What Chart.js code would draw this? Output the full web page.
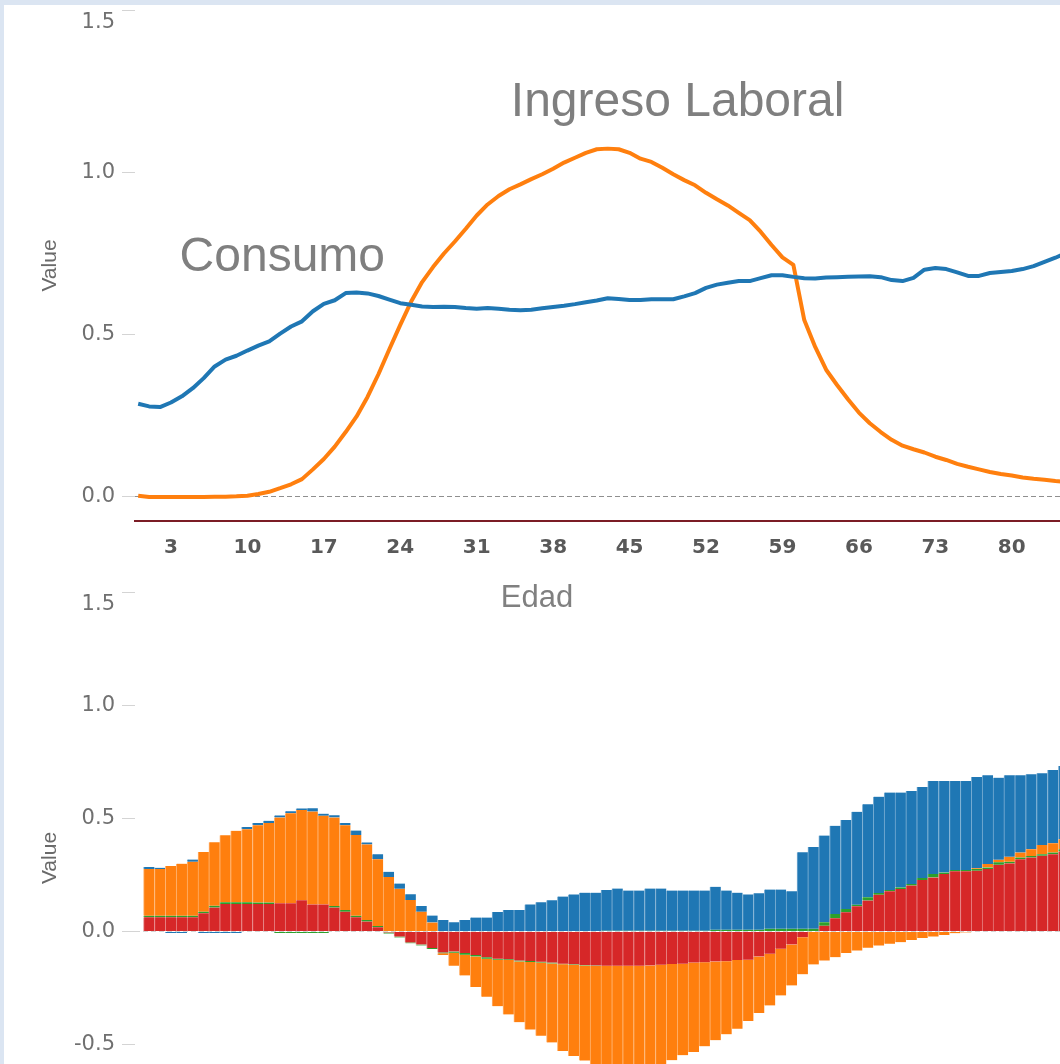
<!DOCTYPE html>
<html>
<head>
<meta charset="utf-8">
<script src="https://cdn.jsdelivr.net/npm/chart.js@4.4.1/dist/chart.umd.min.js"></script>
<style>
  html, body { margin: 0; padding: 0; }
  body { width: 1060px; height: 1064px; overflow: hidden; position: relative; background: #dbe5f2; }
  #sheet { position: absolute; left: 4px; top: 5px; right: 0; bottom: 0; background: #fff; }
  canvas { position: absolute; left: 0; }
  #topChart { top: 0; }
  #bottomChart { top: 560px; }
</style>
</head>
<body>
<div id="sheet"></div>
<canvas id="topChart" width="1200" height="620"></canvas>
<canvas id="bottomChart" width="1200" height="600"></canvas>
<script>
// ages (Edad) for the two line series
const ages = Array.from({length: 86}, (_, i) => i);
const consumo = [
  .287, .279, .277, .291, .310, .335, .366, .402, .423, .435,
  .451, .466, .479, .503, .525, .541, .572, .595, .606, .628,
  .630, .627, .619, .608, .597, .592, .587, .585, .586, .585,
  .582, .580, .582, .580, .577, .575, .577, .581, .585, .589,
  .594, .600, .605, .612, .610, .607, .607, .609, .609, .609,
  .618, .628, .644, .654, .660, .665, .665, .674, .683, .683,
  .678, .674, .673, .676, .677, .678, .679, .680, .677, .668,
  .665, .675, .700, .705, .702, .692, .681, .681, .690, .693,
  .696, .702, .711, .724, .737, .752
];
const ingreso = [
  .004, 0, 0, 0, 0, 0, 0, .001, .001, .002,
  .004, .009, .016, .027, .039, .055, .085, .117, .155, .200,
  .248, .308, .378, .455, .530, .602, .662, .708, .750, .787,
  .826, .867, .901, .927, .948, .963, .979, .994, 1.011, 1.030,
  1.045, 1.060, 1.071, 1.073, 1.071, 1.060, 1.042, 1.032, 1.014, .994,
  .976, .960, .937, .917, .898, .875, .853, .817, .776, .738,
  .715, .545, .462, .392, .345, .301, .260, .227, .200, .176,
  .158, .147, .137, .124, .114, .102, .093, .085, .077, .071,
  .066, .060, .056, .053, .049, .046
];

// ages for the stacked bars
const barAges = Array.from({length: 85}, (_, i) => i);
const redVals = [
  .063, .063, .063, .063, .063, .081, .106, .122, .122, .122,
  .122, .122, .125, .125, .138, .120, .120, .106, .088, .063,
  .044, .019, -.004, -.022, -.048, -.057, -.073, -.092, -.088, -.095,
  -.103, -.113, -.120, -.122, -.128, -.130, -.133, -.137, -.142, -.144,
  -.148, -.150, -.151, -.151, -.151, -.151, -.150, -.147, -.143, -.142,
  -.137, -.136, -.132, -.131, -.126, -.125, -.110, -.098, -.076, -.057,
  -.025, 0, .026, .059, .085, .112, .137, .163, .178, .188,
  .203, .228, .239, .254, .266, .266, .269, .276, .295, .301,
  .320, .327, .335, .342, .354
];
const greenVals = [
  .007, .007, .007, .007, .007, .007, .008, .007, .007, .007,
  .006, .006, -.006, -.006, -.006, -.006, -.006, .007, .007, .007,
  .007, .006, -.005, -.004, -.004, -.004, -.004, -.004, -.005, -.007,
  -.007, -.007, -.005, -.004, -.004, -.004, -.004, -.004, -.002, -.002,
  -.002, -.002, .004, .004, .004, .004, .004, .004, .004, .004,
  .004, .004, .008, .008, .008, .008, .008, .012, .012, .012,
  .012, .012, .015, .019, .015, .007, .015, .007, .006, .007,
  .007, .009, .015, .007, .006, .006, .007, .007, .011, .007,
  .007, .007, .007, .007, .010
];
const orangeVals = [
  .206, .206, .220, .230, .238, .263, .281, .297, .316, .323,
  .342, .352, .379, .398, .399, .410, .392, .391, .375, .357,
  .334, .294, .241, .189, .140, .088, .040, -.008, -.058, -.092,
  -.135, -.168, -.205, -.240, -.268, -.299, -.323, -.349, -.383, -.404,
  -.420, -.450, -.462, -.470, -.470, -.468, -.460, -.448, -.425, -.404,
  -.395, -.371, -.348, -.323, -.303, -.270, -.250, -.228, -.206, -.181,
  -.164, -.145, -.128, -.113, -.095, -.084, -.072, -.062, -.054, -.047,
  -.037, -.028, -.022, -.015, -.007, -.004, .004, .015, .011, .022,
  .022, .030, .040, .041, .044
];
const blueVals = [
  .009, .006, -.006, -.006, .010, -.006, -.006, -.006, -.006, .010,
  .010, .009, .009, .009, .007, .015, .009, .010, .010, .019,
  .009, .023, .023, .023, .025, .025, .031, .051, .041, .051,
  .062, .062, .087, .095, .095, .120, .129, .138, .155, .164,
  .172, .172, .180, .186, .177, .177, .186, .186, .177, .177,
  .177, .177, .190, .173, .164, .156, .161, .174, .174, .166,
  .338, .362, .383, .389, .393, .410, .410, .426, .430, .419,
  .411, .402, .411, .404, .393, .393, .403, .392, .363, .360,
  .341, .331, .317, .324, .323
];

const xTicks = [3, 10, 17, 24, 31, 38, 45, 52, 59, 66, 73, 80, 87, 94];
const topYTicks = [0, 0.5, 1.0, 1.5];
const bottomYTicks = [-0.5, 0, 0.5, 1.0, 1.5];

// text notes on the line chart (x in years, y in value units)
const noteTexts = ['Consumo', 'Ingreso Laboral'];
const noteX = [13.2, 49.4];
const noteY = [0.6975, 1.173];

const tickFont = {family: 'DejaVu Sans', size: 21};

// draws the top tick label (a bit below its tick, like the original), notes and the x title
const textLayer = {
  id: 'textLayer',
  afterDraw(chart, args, opts) {
    const {ctx, chartArea} = chart;
    const x = chart.scales.x, y = chart.scales.y;
    ctx.save();
    ctx.font = '21px "DejaVu Sans"';
    ctx.fillStyle = '#707070';
    ctx.textAlign = 'right';
    ctx.textBaseline = 'middle';
    ctx.fillText('1.5', chartArea.left - 20, y.getPixelForValue(1.5) + 13);

    if (opts.notes) {
      ctx.font = '48px "Liberation Sans", Arial, sans-serif';
      ctx.fillStyle = '#7f7f7f';
      ctx.textAlign = 'center';
      ctx.textBaseline = 'alphabetic';
      noteTexts.forEach((t, i) => {
        ctx.fillText(t, x.getPixelForValue(noteX[i]), y.getPixelForValue(noteY[i]));
      });
    }
    if (opts.xTitle) {
      ctx.font = '31px "Liberation Sans", Arial, sans-serif';
      ctx.fillStyle = '#808080';
      ctx.textAlign = 'center';
      ctx.textBaseline = 'middle';
      ctx.fillText(opts.xTitle, chartArea.left + 402, chartArea.bottom + 77);
    }
    ctx.restore();
  }
};

function yAxis(min, max, ticks, stacked) {
  return {
    min: min,
    max: max,
    stacked: stacked,
    afterBuildTicks: s => { s.ticks = ticks.map(v => ({value: v})); },
    afterFit: s => { s.width = 135; s.paddingTop = 0; s.paddingBottom = 0; },
    grid: {
      color: c => (c.tick && c.tick.value === 0) ? (stacked ? '#d4d4d4' : '#8f8f8f') : 'rgba(0,0,0,0)',
      tickColor: '#d4d4d4',
      tickLength: 13,
      lineWidth: 1,
      z: stacked ? 1 : -1
    },
    border: {display: false, dash: [5, 3]},
    ticks: {
      padding: 7,
      color: '#707070',
      font: tickFont,
      callback: v => v === 1.5 ? '' : v.toFixed(1)
    },
    title: {
      display: true,
      text: 'Value',
      color: '#6a6a6a',
      font: {family: 'Liberation Sans', size: 21},
      padding: {top: 38, bottom: 0}
    }
  };
}

function toPoints(xs, ys) {
  return xs.map((a, i) => ({x: a, y: ys[i]}));
}

new Chart(document.getElementById('topChart'), {
  type: 'line',
  data: {
    datasets: [
      {
        label: 'Consumo',
        data: toPoints(ages, consumo),
        borderColor: '#1f77b4',
        borderWidth: 4,
        pointRadius: 0,
        tension: 0,
        borderJoinStyle: 'round'
      },
      {
        label: 'Ingreso Laboral',
        data: toPoints(ages, ingreso),
        borderColor: '#ff7f0e',
        borderWidth: 4,
        pointRadius: 0,
        tension: 0,
        borderJoinStyle: 'round'
      }
    ]
  },
  options: {
    responsive: false,
    animation: false,
    layout: {padding: {top: 10, bottom: 59, left: 0, right: 0}},
    plugins: {
      legend: {display: false},
      tooltip: {enabled: false},
      textLayer: {notes: true, xTitle: 'Edad'}
    },
    scales: {
      x: {
        type: 'linear',
        min: -0.293,
        max: 97.24,
        afterBuildTicks: s => { s.ticks = xTicks.map(v => ({value: v})); },
        afterFit: s => { s.height = 40; s.paddingLeft = 0; s.paddingRight = 0; },
        grid: {display: false},
        border: {display: true, color: '#7b1c25', width: 2},
        ticks: {
          padding: 7,
          autoSkip: false,
          maxRotation: 0,
          color: '#595959',
          font: {family: 'DejaVu Sans', size: 20, weight: 'bold'}
        }
      },
      y: yAxis(-0.074, 1.5, topYTicks, false)
    }
  },
  plugins: [textLayer]
});

const barStyle = {
  barPercentage: 1,
  categoryPercentage: 1,
  borderWidth: {left: 1, right: 0, top: 0, bottom: 0},
  borderSkipped: false
};

new Chart(document.getElementById('bottomChart'), {
  type: 'bar',
  data: {
    datasets: [
      Object.assign({label: 'Transferencias públicas', data: toPoints(barAges, redVals),
        backgroundColor: '#d62728', borderColor: '#e67d7e'}, barStyle),
      Object.assign({label: 'Otros', data: toPoints(barAges, greenVals),
        backgroundColor: '#2ca02c', borderColor: '#80c680'}, barStyle),
      Object.assign({label: 'Transferencias privadas', data: toPoints(barAges, orangeVals),
        backgroundColor: '#ff7f0e', borderColor: '#ffb26e'}, barStyle),
      Object.assign({label: 'Reasignación de activos', data: toPoints(barAges, blueVals),
        backgroundColor: '#1f77b4', borderColor: '#79add2'}, barStyle)
    ]
  },
  options: {
    responsive: false,
    animation: false,
    layout: {padding: {top: 32, bottom: 36, left: 0, right: 0}},
    plugins: {
      legend: {display: false},
      tooltip: {enabled: false},
      textLayer: {}
    },
    scales: {
      x: {
        type: 'linear',
        stacked: true,
        offset: false,
        grid: {offset: false},
        min: -1.286,
        max: 96.5,
        display: false
      },
      y: yAxis(-0.85, 1.5, bottomYTicks, true)
    }
  },
  plugins: [textLayer]
});
</script>
</body>
</html>
